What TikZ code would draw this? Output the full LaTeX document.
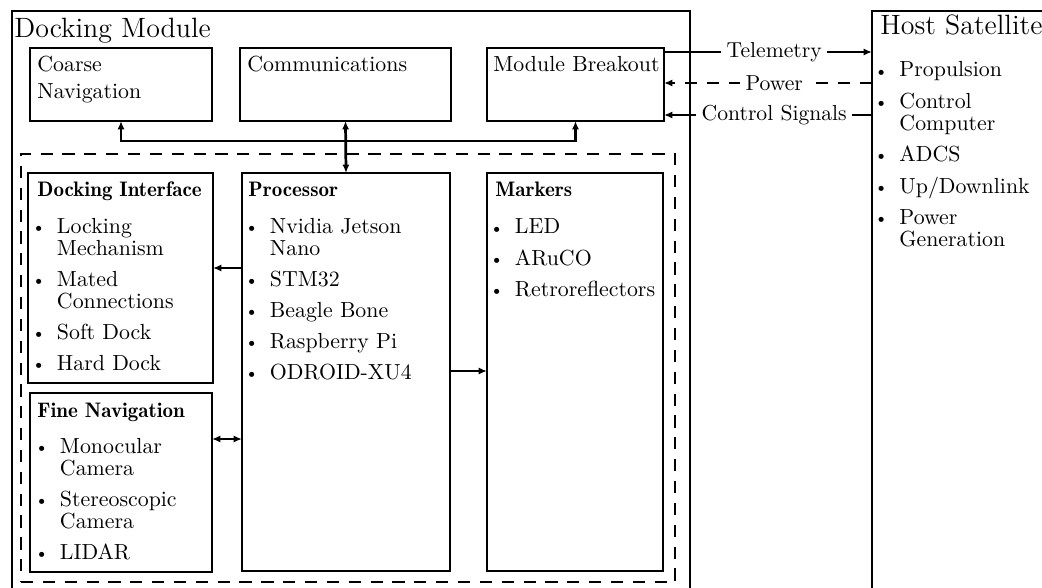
\documentclass[tikz,border=0pt]{standalone}
\usetikzlibrary{arrows.meta}
\newcommand\bl{\makebox[10.5pt][l]{\raisebox{0.85pt}{\fontsize{5}{5}\selectfont$\bullet$}}}
\newcommand\ind{\hspace*{10.5pt}}
\newcommand\gap{\\[4.3pt]}
\newcommand\tlist[1]{\begin{tabular}[t]{@{}l@{}}#1\end{tabular}}
\begin{document}
\begin{tikzpicture}[x=0.476pt,y=-0.476pt,
  box/.style 2 args={draw, line width=1.3pt, anchor=north west, inner sep=0pt, outer sep=0pt,
    minimum width=#1*0.476pt, minimum height=#2*0.476pt},
  dbox/.style 2 args={box={#1}{#2}, dash pattern=on 5.8pt off 4.6pt},
  bigtitle/.style={anchor=base west, inner sep=0pt, font=\fontsize{13.3}{16}\selectfont},
  toptitle/.style={anchor=base west, inner sep=0pt, font=\fontsize{10.4}{12.4}\selectfont},
  subtitle/.style={anchor=base west, inner sep=0pt, font=\fontseries{b}\fontsize{10}{12}\selectfont},
  itemlist/.style={anchor=base west, inner sep=0pt, font=\fontsize{10.4}{10.5}\selectfont},
  conn/.style={line width=1.3pt},
  arr/.style={conn, -{Latex[length=4pt,width=3.4pt]}},
  arrb/.style={conn, {Latex[length=4pt,width=3.4pt]}-{Latex[length=4pt,width=3.4pt]}},
  dashline/.style={dash pattern=on 5.8pt off 4.6pt},
  lbl/.style={fill=white, inner xsep=2.5pt, inner ysep=1pt, font=\fontsize{10.3}{12}\selectfont}
]
\useasboundingbox (0,0) rectangle (1042,588);
\clip (0,0) rectangle (1042,588);

% outer boxes
\node[box={678}{640}] (dm) at (12,11) {};
\node[box={220}{640}] (host) at (872,11) {};
\node[bigtitle] (dmT) at (14,38) {Docking Module};
\node[bigtitle] (hostT) at (880,35) {Host Satellite};

% top row
\node[box={182}{73}] (coarse) at (30,48) {};
\node[box={211}{73}] (comm) at (240,48) {};
\node[box={177}{73}] (mb) at (487,48) {};
\node[toptitle] (coarseT) at (37,72) {\tlist{Coarse\\Navigation}};
\node[toptitle] (commT) at (247,72) {Communications};
\node[toptitle] (mbT) at (493,72) {Module Breakout};

% dashed group
\node[dbox={654}{428}] (grp) at (21,154) {};

% inner boxes
\node[box={185}{210}] (dock) at (28,173) {};
\node[box={208}{398}] (proc) at (242,173) {};
\node[box={176}{398}] (mark) at (487,173) {};
\node[box={182}{179}] (fine) at (30,393) {};

\node[subtitle] (dockT) at (37,197) {Docking Interface};
\node[subtitle] (procT) at (248,197) {Processor};
\node[subtitle] (markT) at (495,197) {Markers};
\node[subtitle] (fineT) at (37,417) {Fine Navigation};

\node[itemlist] (dockL) at (34.5,233) {\tlist{\bl Locking\\\ind Mechanism\gap\bl Mated\\\ind Connections\gap\bl Soft Dock\gap\bl Hard Dock}};
\node[itemlist] (procL) at (247.5,233) {\tlist{\bl Nvidia Jetson\\\ind Nano\gap\bl STM32\gap\bl Beagle Bone\gap\bl Raspberry Pi\gap\bl ODROID-XU4}};
\node[itemlist] (markL) at (492.5,234) {\tlist{\bl LED\gap\bl ARuCO\gap\bl Retroreflectors}};
\node[itemlist] (fineL) at (37.5,453) {\tlist{\bl Monocular\\\ind Camera\gap\bl Stereoscopic\\\ind Camera\gap\bl LIDAR}};
\node[itemlist] (hostL) at (877,77) {\tlist{\bl Propulsion\gap\bl Control\\\ind Computer\gap\bl ADCS\gap\bl Up/Downlink\gap\bl Power\\\ind Generation}};

% connectors
\coordinate (bus) at (comm.south |- 0,141);
\draw[arr] (bus) -| (coarse.south);
\draw[arr] (bus) -| (mb.south);
\draw[arrb] (comm.south) -- (proc.north);
\draw[arr] (proc.west |- 0,268) -- (dock.east |- 0,268);
\draw[arrb] (fine.east |- 0,439) -- (proc.west |- 0,439);
\draw[arr] (proc.east |- 0,371) -- (mark.west |- 0,371);

\draw[arr] (mb.east |- 0,52) -- node[lbl,pos=0.53] (telL) {Telemetry} (host.west |- 0,52);
\draw[arr,dashline] (host.west |- 0,83) -- node[lbl,pos=0.47] (powL) {Power} (mb.east |- 0,83);
\draw[arr] (host.west |- 0,115) -- node[lbl,pos=0.47] (ctlL) {Control Signals} (mb.east |- 0,115);
\end{tikzpicture}
\end{document}
